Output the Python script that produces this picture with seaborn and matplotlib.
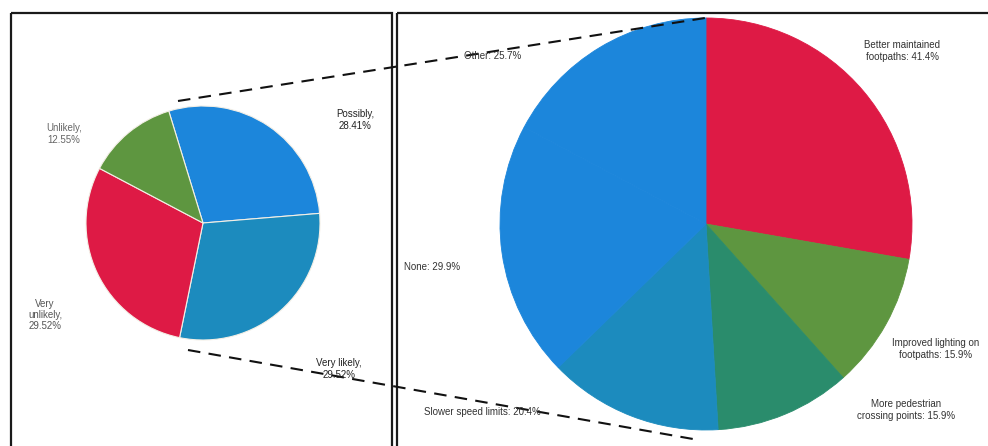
import matplotlib
matplotlib.use("Agg")
import matplotlib.pyplot as plt
from matplotlib.patches import Rectangle
import seaborn as sns

# Likelihood question (left pie)
likelihood_labels = ["Possibly", "Very likely", "Very unlikely", "Unlikely"]
likelihood_values = [28.41, 29.52, 29.52, 12.55]
likelihood_text = ["Possibly,\n28.41%", "Very likely,\n29.52%", "Very\nunlikely,\n29.52%", "Unlikely,\n12.55%"]

# Improvements question (right pie), % of respondents
improve_labels = ["Better maintained footpaths", "Improved lighting on footpaths",
                  "More pedestrian crossing points", "Slower speed limits", "None", "Other"]
improve_values = [41.4, 15.9, 15.9, 20.4, 29.9, 25.7]
improve_text = ["Better maintained\nfootpaths: 41.4%", "Improved lighting on\nfootpaths: 15.9%",
                "More pedestrian\ncrossing points: 15.9%", "Slower speed limits: 20.4%",
                "None: 29.9%", "Other: 25.7%"]

sns.set_theme(style="white")
plt.rcParams["font.family"] = ["Liberation Sans", "DejaVu Sans"]

W, H = 988, 446
fig = plt.figure(figsize=(W / 100, H / 100), dpi=100)
fig.patch.set_facecolor("white")

red, green, tealgreen, tealblue, blue = sns.color_palette(
    ["#DE1A45", "#5E9640", "#2A8C6C", "#1C8BBE", "#1C86DB"])

def pie_axes(cx, cy, r):
    return fig.add_axes([(cx - r) / W, (H - cy - r) / H, 2 * r / W, 2 * r / H])

def finish(ax):
    ax.set_xlim(-1, 1)
    ax.set_ylim(-1, 1)
    ax.axis("off")

# Left pie
axl = pie_axes(203, 223, 117)
axl.pie(likelihood_values, colors=[blue, tealblue, red, green], startangle=107,
        counterclock=False, radius=1, center=(0, 0),
        wedgeprops=dict(edgecolor="#f3efe6", linewidth=0.8))
finish(axl)

# Right pie
axr = pie_axes(706, 224, 206)
wedges, _ = axr.pie(improve_values, colors=[red, green, tealgreen, tealblue, blue, blue],
                    startangle=90, counterclock=False, radius=1, center=(0, 0))
for w in wedges:
    w.set_edgecolor(w.get_facecolor())
    w.set_linewidth(0.6)
finish(axr)

# Overlay in pixel units for frames, connectors and labels
ov = fig.add_axes([0, 0, 1, 1], zorder=10)
ov.set_xlim(0, W)
ov.set_ylim(H, 0)
ov.axis("off")
ov.patch.set_alpha(0)

ov.add_patch(Rectangle((11, 13), 381, 440, fill=False, edgecolor="#1a1a1a", linewidth=1.6))
ov.add_patch(Rectangle((397, 13), 600, 440, fill=False, edgecolor="#1a1a1a", linewidth=1.6))

dash = dict(color="#111111", linewidth=1.5, linestyle=(0, (6, 4)))
ov.plot([178, 705], [101, 18], **dash)
ov.plot([188, 693], [350, 439], **dash)

fs = 7
left_pos = [(355, 120, "#222222"), (339, 369, "#222222"), (45, 315, "#555555"), (64, 134, "#666666")]
for txt, (x, y, c) in zip(likelihood_text, left_pos):
    ov.text(x, y, txt, ha="center", va="center", fontsize=fs, color=c, linespacing=1.15)

right_pos = [(902, 51, "center"), (936, 349, "center"), (906, 410, "center"),
             (482, 412, "center"), (432, 267, "center"), (493, 56, "center")]
for txt, (x, y, ha) in zip(improve_text, right_pos):
    ov.text(x, y, txt, ha=ha, va="center", fontsize=fs, color="#333333", linespacing=1.2)

fig.savefig("out.png", dpi=100, facecolor="white")
